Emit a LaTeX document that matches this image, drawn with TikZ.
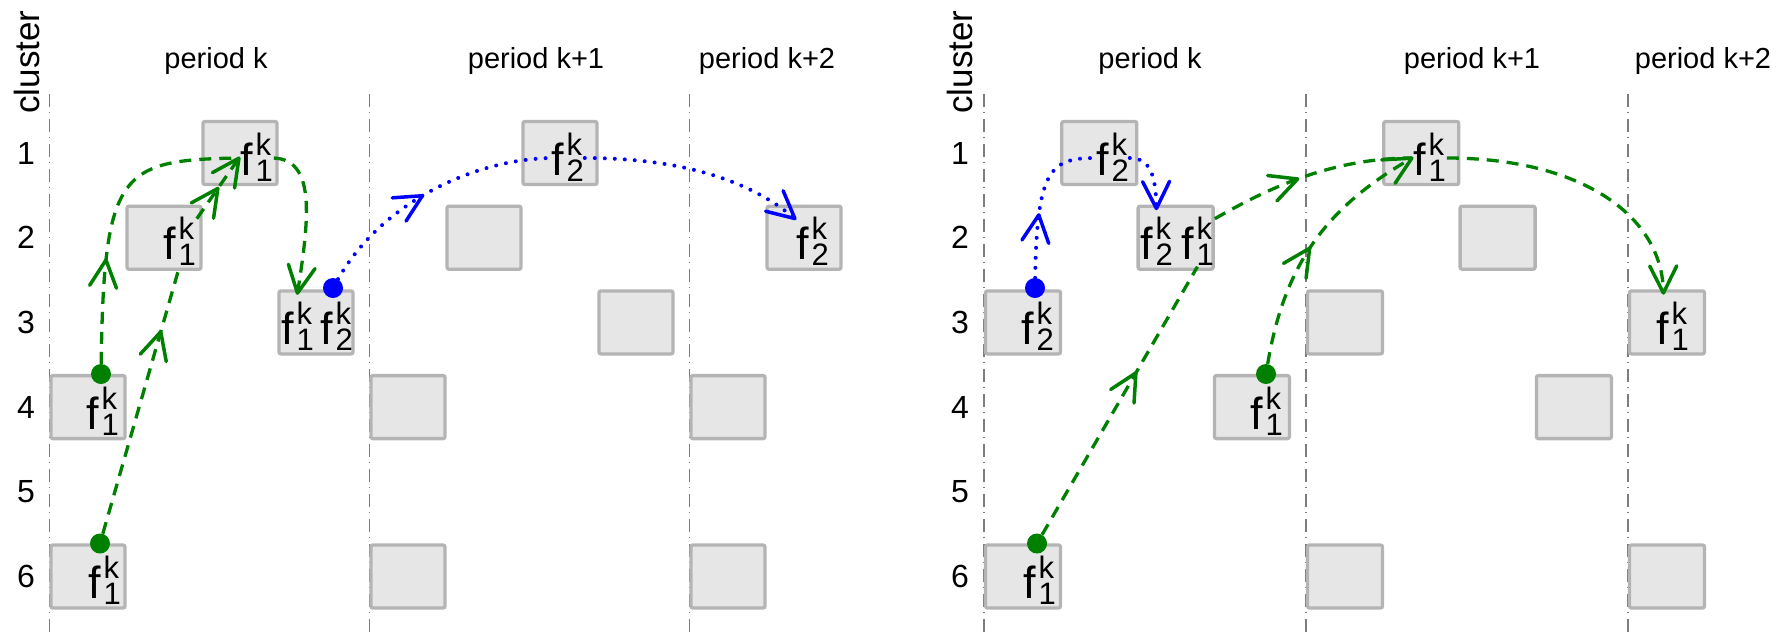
\documentclass[tikz,border=0pt]{standalone}
\usepackage{fontspec}
\setmainfont{Liberation Sans}
\usetikzlibrary{decorations.markings,calc}

\definecolor{boxfill}{RGB}{230,230,230}
\definecolor{boxline}{RGB}{180,180,180}
\definecolor{sepline}{RGB}{125,125,125}
\definecolor{flowgreen}{RGB}{0,128,0}
\definecolor{flowblue}{RGB}{0,0,255}

\newcommand\fsz[1]{\fontsize{#1}{#1}\selectfont}
% f with superscript k and a flow index as subscript
\newcommand\flowlab[1]{f\kern3pt\rlap{\raisebox{20pt}{\fsz{31}k}}\raisebox{-6pt}{\fsz{31}#1}}
% open barb drawn at a marking, tip at the mark
\newcommand\flowhead[1]{\draw[#1, solid, line width=3.5pt, line cap=round, line join=round]
  (-27pt,13.5pt) -- (0pt,0pt) -- (-27pt,-13.5pt);}

\tikzset{
  cell/.style={draw=boxline, fill=boxfill, line width=3.3pt, rounded corners=2pt,
    minimum width=74pt, minimum height=63pt, inner sep=0pt},
  wcell/.style={cell, minimum width=75pt},
  flab/.style={inner sep=0pt, outer sep=1pt, text height=40pt, text depth=6pt,
    font=\fsz{45}, anchor=base east},
  gdot/.style={circle, fill=flowgreen, inner sep=0pt, minimum size=20pt},
  bdot/.style={circle, fill=flowblue, inner sep=0pt, minimum size=20pt},
  gflow/.style={draw=flowgreen, line width=3.3pt, dash pattern=on 12pt off 8pt},
  bflow/.style={draw=flowblue, line width=4pt, line cap=round, dash pattern=on 0pt off 10pt},
  gtip/.style={postaction={decorate, decoration={markings,
    mark=at position #1 with {\flowhead{flowgreen}}}}},
  btip/.style={postaction={decorate, decoration={markings,
    mark=at position #1 with {\flowhead{flowblue}}}}},
  sep/.style={draw=sepline, line width=1.6pt, dash pattern=on 13pt off 4.5pt on 1.5pt off 6pt},
  rownum/.style={font=\fsz{32}, inner sep=0pt},
  axislab/.style={font=\fsz{35}, inner sep=0pt, rotate=90},
  periodlab/.style={font=\fsz{29}, inner sep=0pt, anchor=base},
}

\begin{document}
\begin{tikzpicture}[x=1pt, y=-1pt]
\useasboundingbox (0,0) rectangle (1789,633);

% ---------- axes and period separators ----------
\foreach \x in {49.5,369.5,689.5,984,1306,1628}
  \draw[sep] (\x,94) -- (\x,633);

\node[axislab] (clusterL) at (27,62) {cluster};
\node[axislab] (clusterR) at (960,62) {cluster};
\foreach \r in {1,...,6} {
  \node[rownum] (rowL\r) at (26,{153+84.7*(\r-1)}) {\r};
  \node[rownum] (rowR\r) at (960,{153+84.7*(\r-1)}) {\r};
}

\node[periodlab] (pL0) at (216,68) {period k};
\node[periodlab] (pL1) at (536,68) {period k+1};
\node[periodlab] (pL2) at (767,68) {period k+2};
\node[periodlab] (pR0) at (1150,68) {period k};
\node[periodlab] (pR1) at (1472,68) {period k+1};
\node[periodlab] (pR2) at (1703,68) {period k+2};

% ---------- left panel: cells ----------
\node[cell] (L04) at (88,407.1) {};
\node[cell] (L06) at (88,576.5) {};
\node[cell] (L02) at (164,237.7) {};
\node[cell] (L01) at (240,153) {};
\node[cell] (L03) at (316,322.4) {};
\node[cell] (L14) at (408,407.1) {};
\node[cell] (L16) at (408,576.5) {};
\node[cell] (L12) at (484,237.7) {};
\node[cell] (L11) at (560,153) {};
\node[cell] (L13) at (636,322.4) {};
\node[cell] (L24) at (728,407.1) {};
\node[cell] (L26) at (728,576.5) {};
\node[cell] (L22) at (804,237.7) {};

\node[flab] (labL04) at (119.8,429.1) {\flowlab{1}};
\node[flab] (labL06) at (121.8,598.5) {\flowlab{1}};
\node[flab] (labL02) at (196.8,259.7) {\flowlab{1}};
\node[flab] (labL01) at (273.8,175) {\flowlab{1}};
\node[flab] (labL03a) at (314.8,344.4) {\flowlab{1}};
\node[flab] (labL03b) at (353.8,344.4) {\flowlab{2}};
\node[flab] (labL11) at (584.8,175) {\flowlab{2}};
\node[flab] (labL22) at (829.8,259.7) {\flowlab{2}};

% ---------- right panel: cells ----------
\node[wcell] (R03) at (1023,322.4) {};
\node[wcell] (R06) at (1023,576.5) {};
\node[wcell] (R01) at (1099.3,153) {};
\node[wcell] (R02) at (1175.6,237.7) {};
\node[wcell] (R04) at (1251.9,407.1) {};
\node[wcell] (R13) at (1345,322.4) {};
\node[wcell] (R16) at (1345,576.5) {};
\node[wcell] (R11) at (1421.3,153) {};
\node[wcell] (R12) at (1497.6,237.7) {};
\node[wcell] (R14) at (1573.9,407.1) {};
\node[wcell] (R23) at (1667,322.4) {};
\node[wcell] (R26) at (1667,576.5) {};

\node[flab] (labR01) at (1129.8,175) {\flowlab{2}};
\node[flab] (labR02a) at (1173.8,259.7) {\flowlab{2}};
\node[flab] (labR02b) at (1214.8,259.7) {\flowlab{1}};
\node[flab] (labR03) at (1054.8,344.4) {\flowlab{2}};
\node[flab] (labR04) at (1283.8,429.1) {\flowlab{1}};
\node[flab] (labR06) at (1056.8,598.5) {\flowlab{1}};
\node[flab] (labR11) at (1446.8,175) {\flowlab{1}};
\node[flab] (labR23) at (1689.8,344.4) {\flowlab{1}};

% ---------- flow origins ----------
\node[gdot] (dL4) at (101,374) {};
\node[gdot] (dL6) at (100,543.5) {};
\node[bdot] (dL3) at (333,288) {};
\node[bdot] (dR3) at (1035,288) {};
\node[gdot] (dR6) at (1037,543.5) {};
\node[gdot] (dR4) at (1266,374) {};

% ---------- left panel: flows ----------
\draw[gflow, gtip=104pt] (dL4) .. controls (104,170) and (120,160) .. (labL01.west);
\draw[gflow, gtip=210pt] (dL6) -- (labL02.south);
\draw[gflow, gtip=0.5, gtip=0.999] (labL02.north east) -- (labL01.west);
\draw[gflow, gtip=0.999] (labL01.east) .. controls (315,160) and (310,215) ..
  ($(labL03a.north |- L03.north)+(0,4)$);
\draw[bflow, btip=120pt] (dL3) .. controls (380,205) and (470,160) .. (labL11.west);
\draw[bflow, btip=0.999] (labL11.east) .. controls (680,158) and (750,180) .. (labL22.north west);

% ---------- right panel: flows ----------
\draw[bflow, btip=63pt] (dR3) .. controls (1037,170) and (1050,158) .. (labR01.west);
\draw[bflow, btip=0.999] (labR01.east) .. controls (1150,158) and (1156,175) ..
  ($(labR02a.north |- R02.north)+(0,4)$);
\draw[gflow, gtip=187pt] (dR6) -- (labR02b.south);
\draw[gflow, gtip=92pt] (labR02b.north east) .. controls (1265,190) and (1330,158) .. (labR11.west);
\draw[gflow, gtip=124pt, gtip=0.999] (dR4) .. controls (1285,260) and (1330,205) .. (labR11.west);
\draw[gflow, gtip=0.999] (labR11.east) .. controls (1580,158) and (1663,215) ..
  ($(labR23.north |- R23.north)+(-9,4)$);
\end{tikzpicture}
\end{document}
